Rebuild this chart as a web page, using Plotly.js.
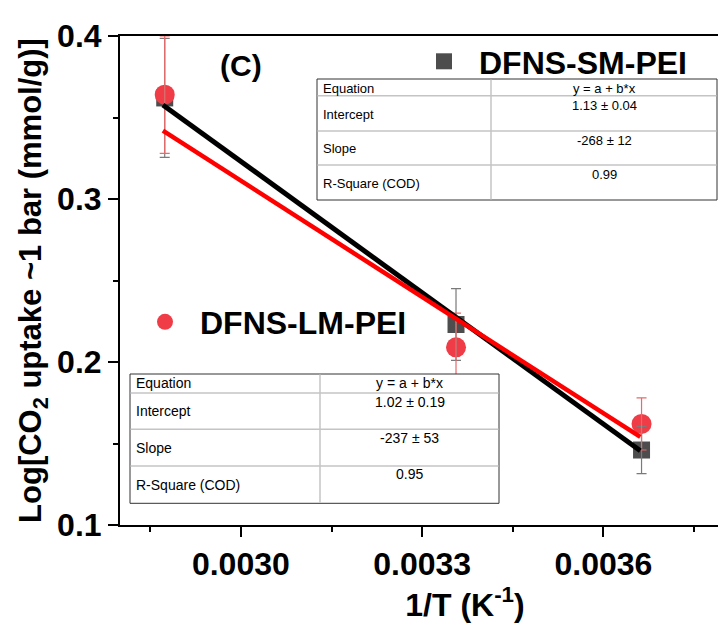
<!DOCTYPE html>
<html>
<head>
<meta charset="utf-8">
<script src="https://cdn.plot.ly/plotly-3.0.1.min.js"></script>
<style>
html, body { margin: 0; padding: 0; overflow: hidden; background: #fff; }
#chart { width: 810px; height: 628px; }
</style>
</head>
<body>
<div id="chart"></div>
<script>
// ---- data ----
const invT = [0.002874, 0.003356, 0.003663];           // 1/T (K^-1)
const smY = [0.362, 0.223, 0.146];                      // DFNS-SM-PEI
const smErr = [0.0365, 0.022, 0.0145];
const lmY = [0.364, 0.209, 0.162];                      // DFNS-LM-PEI
const lmErr = [0.036, 0.021, 0.016];
const fitX = [0.002871, 0.003661];
const smFitY = [0.3577, 0.1455];
const lmFitY = [0.3419, 0.154];
const seriesNames = ['DFNS-SM-PEI', 'DFNS-LM-PEI'];
const tableRows = ['Equation', 'Intercept', 'Slope', 'R-Square (COD)'];
const smTableVals = ['y = a + b*x', '1.13 \u00b1 0.04', '-268 \u00b1 12', '0.99'];
const lmTableVals = ['y = a + b*x', '1.02 \u00b1 0.19', '-237 \u00b1 53', '0.95'];
const panelLabel = '(C)';

// ---- layout helpers (pixel -> paper) ----
const W = 810, H = 628, ML = 120, MT = 36, MB = 103;
const px = x => (x - ML) / (W - ML);
const py = y => (H - MB - y) / (H - MT - MB);
const FONT = 'Liberation Sans, Arial, Helvetica, sans-serif';

const traces = [
  { x: invT, y: smY, mode: 'markers', name: seriesNames[0], legend: 'legend',
    marker: { symbol: 'square', size: 17, color: '#4d4d4d' }, cliponaxis: false },
  { x: invT, y: lmY, mode: 'markers', name: seriesNames[1], legend: 'legend2',
    marker: { symbol: 'circle', size: 20, color: '#f03c46' }, cliponaxis: false },
  { x: invT, y: smY, mode: 'markers', showlegend: false, hoverinfo: 'skip',
    marker: { size: 1, color: 'rgba(0,0,0,0)' },
    error_y: { type: 'data', array: smErr, color: '#7a7a7a', thickness: 1.2, width: 5 } },
  { x: invT, y: lmY, mode: 'markers', showlegend: false, hoverinfo: 'skip',
    marker: { size: 1, color: 'rgba(0,0,0,0)' },
    error_y: { type: 'data', array: lmErr, color: '#e86a6a', thickness: 1.2, width: 5 } },
  { x: fitX, y: smFitY, mode: 'lines', showlegend: false,
    line: { color: '#000000', width: 5 } },
  { x: fitX, y: lmFitY, mode: 'lines', showlegend: false,
    line: { color: '#ff0000', width: 4.5 } }
];

const shapes = [];
const annotations = [];
function addTable(left, right, top, bottom, colX, rowLines, labels, vals, labelYs, valYs, fs) {
  shapes.push({ type: 'rect', xref: 'paper', yref: 'paper', layer: 'above',
    x0: px(left), x1: px(right), y0: py(bottom), y1: py(top),
    fillcolor: '#ffffff', line: { color: '#333333', width: 1 } });
  rowLines.forEach(r => shapes.push({ type: 'line', xref: 'paper', yref: 'paper', layer: 'above',
    x0: px(left + 0.5), x1: px(right - 0.5), y0: py(r), y1: py(r),
    line: { color: '#c4c4c4', width: 1.5 } }));
  shapes.push({ type: 'line', xref: 'paper', yref: 'paper', layer: 'above',
    x0: px(colX), x1: px(colX), y0: py(bottom - 0.5), y1: py(top + 0.5),
    line: { color: '#c4c4c4', width: 1.5 } });
  labels.forEach((t, i) => annotations.push({ text: t, xref: 'paper', yref: 'paper',
    x: px(left + 5), y: py(labelYs[i]), xanchor: 'left', yanchor: 'middle', showarrow: false,
    borderpad: 0, font: { family: FONT, size: fs, color: '#000' } }));
  vals.forEach((t, i) => annotations.push({ text: t, xref: 'paper', yref: 'paper',
    x: px((colX + right) / 2), y: py(valYs[i]), xanchor: 'center', yanchor: 'middle', showarrow: false,
    borderpad: 0, font: { family: FONT, size: fs, color: '#000' } }));
}
addTable(317, 717, 79, 200, 491, [95.7, 131, 165], tableRows, smTableVals,
  [88.5, 114.5, 148.5, 183], [88.5, 105.5, 140.5, 174.5], 13);
addTable(130, 499, 374, 503.3, 320, [393, 429.3, 466], tableRows, lmTableVals,
  [383, 411.5, 448, 485], [383, 401.5, 437.5, 474], 14);

annotations.push({ text: panelLabel, xref: 'paper', yref: 'paper', x: px(241), y: py(66),
  xanchor: 'center', yanchor: 'middle', showarrow: false,
  font: { family: FONT, size: 30, weight: 'bold', color: '#000' } });

const axisCommon = {
  showgrid: false, zeroline: false, showline: true, linecolor: '#000', linewidth: 2,
  mirror: true, ticks: 'outside', ticklen: 10, tickwidth: 2, tickcolor: '#000',
  tickfont: { family: FONT, size: 32, weight: 'bold', color: '#000' }
};

const layout = {
  width: W, height: H,
  margin: { l: ML, r: 0, t: MT, b: MB },
  paper_bgcolor: '#fff', plot_bgcolor: '#fff',
  font: { family: FONT },
  xaxis: Object.assign({}, axisCommon, {
    range: [0.0028, 0.0028 + (W - ML) * 0.0003 / 181.3],
    tick0: 0.0030, dtick: 0.0003, tickformat: '.4f',
    minor: { ticks: 'outside', ticklen: 5, tickwidth: 2, tickcolor: '#000', dtick: 0.00015, tick0: 0.0030 },
    title: { text: '1/T (K<sup>-1</sup>)', standoff: 12,
      font: { family: FONT, size: 32, weight: 'bold', color: '#000' } }
  }),
  yaxis: Object.assign({}, axisCommon, {
    range: [0.1, 0.4], dtick: 0.1, tick0: 0.1, tickformat: '.1f',
    minor: { ticks: 'outside', ticklen: 5, tickwidth: 2, tickcolor: '#000', dtick: 0.05 },
    title: { text: 'Log[CO<sub>2</sub> uptake ~1 bar (mmol/g)]', standoff: 6,
      font: { family: FONT, size: 31, weight: 'bold', color: '#000' } }
  }),
  legend: { x: px(409), y: py(61.5), xanchor: 'left', yanchor: 'middle',
    bgcolor: 'rgba(0,0,0,0)', borderwidth: 0, itemwidth: 60,
    font: { family: FONT, size: 32, weight: 'bold', color: '#000' } },
  legend2: { x: px(130), y: py(322), xanchor: 'left', yanchor: 'middle',
    bgcolor: 'rgba(0,0,0,0)', borderwidth: 0, itemwidth: 60,
    font: { family: FONT, size: 32, weight: 'bold', color: '#000' } },
  shapes: shapes,
  annotations: annotations,
  showlegend: true
};

Plotly.newPlot('chart', traces, layout, { displayModeBar: false, staticPlot: true });
</script>
</body>
</html>
